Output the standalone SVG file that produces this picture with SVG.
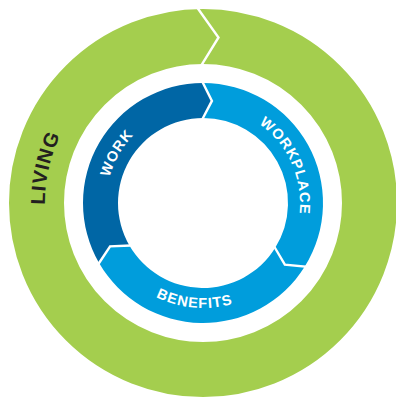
<svg xmlns="http://www.w3.org/2000/svg" width="396" height="400" viewBox="0 0 396 400">
  <style>
    .lbl { font-family: "Liberation Sans", Arial, sans-serif; font-weight: bold; fill: #ffffff; font-size: 14.5px; letter-spacing: 1px; }
    .living { font-family: "Liberation Sans", Arial, sans-serif; font-weight: bold; fill: #231F20; font-size: 20px; letter-spacing: 1px; }
    .sep { fill: none; stroke: #ffffff; stroke-width: 2.4; stroke-linejoin: miter; stroke-linecap: square; }
    .dark { fill: #0066A5; }
    .light { fill: #009DDC; }
  </style>
  <defs>
    <path id="p-living" d="M118.11,336.26 A158,158 0 0 1 182.38,46.36"/>
    <path id="p-work" d="M128.69,265.35 A97,97 0 0 1 219.84,107.47"/>
    <path id="p-workplace" d="M196.23,106.24 A97,97 0 0 1 270.38,272.77"/>
    <path id="p-benefits" d="M101.58,230.18 A105,105 0 0 0 298.16,247.37"/>
  </defs>
  <rect width="396" height="400" fill="#ffffff"/>
  <g id="node-living">
    <circle cx="203" cy="203" r="166.5" fill="none" stroke="#A4CE4E" stroke-width="55"/>
    <text class="living"><textPath href="#p-living" startOffset="50%" text-anchor="middle">LIVING</textPath></text>
  </g>
  <g id="node-work">
    <path class="dark" d="M99.08,263 A120,120 0 0 1 203,83 L211.93,100.89 L203,118 A85,85 0 0 0 129.39,245.5 L110.10,246.32 Z"/>
    <text class="lbl"><textPath href="#p-work" startOffset="50%" text-anchor="middle">WORK</textPath></text>
  </g>
  <g id="node-workplace">
    <path class="light" d="M203,83 A120,120 0 0 1 304.77,266.59 L284.86,264.69 L275.08,248.04 A85,85 0 0 0 203,118 L211.93,100.89 Z"/>
    <text class="lbl"><textPath href="#p-workplace" startOffset="50%" text-anchor="middle">WORKPLACE</textPath></text>
  </g>
  <g id="node-benefits">
    <path class="light" d="M304.77,266.59 A120,120 0 0 1 99.08,263 L110.10,246.32 L129.39,245.5 A85,85 0 0 0 275.08,248.04 L284.86,264.69 Z"/>
    <text class="lbl"><textPath href="#p-benefits" startOffset="50%" text-anchor="middle">BENEFITS</textPath></text>
  </g>
  <g id="separators">
    <polyline class="sep" points="197.5,8 218.5,37.5 201.5,65"/>
    <polyline class="sep" points="203,83 211.93,100.89 203,118"/>
    <polyline class="sep" points="304.77,266.59 284.86,264.69 275.08,248.04"/>
    <polyline class="sep" points="99.08,263 110.10,246.32 129.39,245.5"/>
  </g>
</svg>
